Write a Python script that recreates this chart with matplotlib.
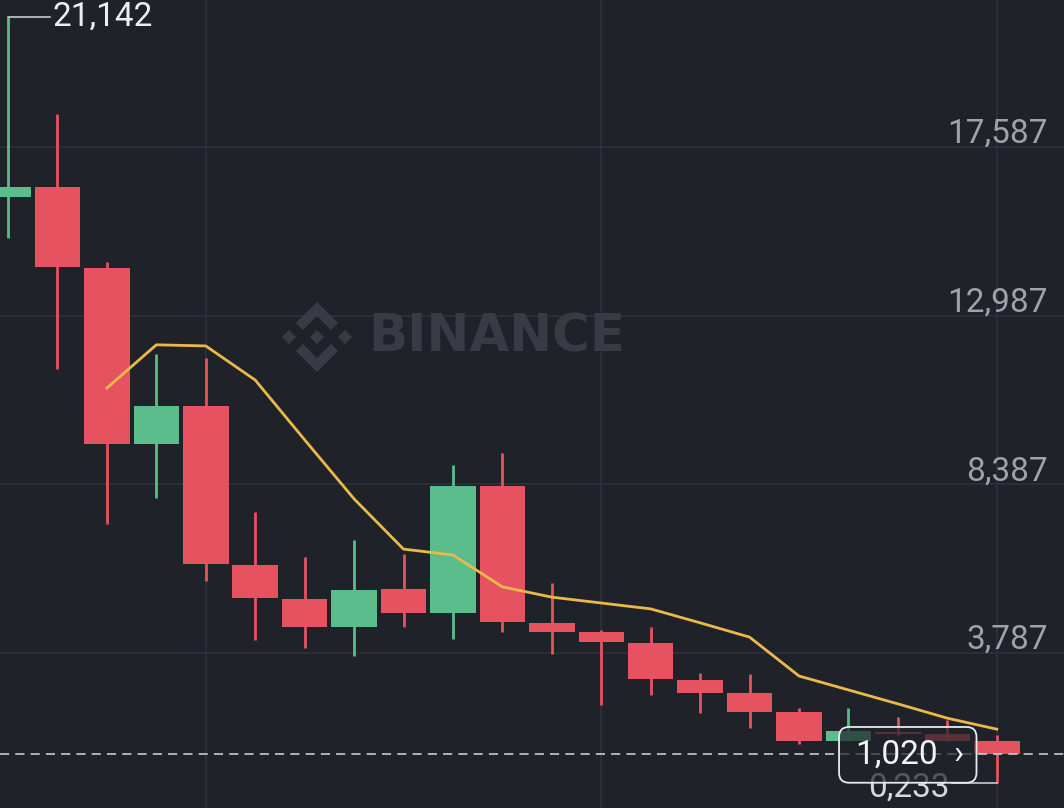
import matplotlib
matplotlib.use("Agg")
import matplotlib.pyplot as plt
import numpy as np
from matplotlib.patches import FancyBboxPatch, Polygon
from matplotlib.transforms import IdentityTransform

# candle data (comma is the decimal mark on the labels)
opens = [16.22, 16.50, 14.29, 9.49, 10.52, 6.19, 5.26, 4.50, 5.53, 4.88, 8.34,
         4.61, 4.36, 4.06, 3.05, 2.70, 2.18, 1.39, 1.63, 1.58, 1.39]
highs = [21.142, 18.49, 14.45, 11.94, 11.83, 7.63, 6.40, 6.87, 6.49, 8.91, 9.24,
         5.70, 4.41, 4.50, 3.24, 3.21, 2.29, 2.29, 2.04, 1.96, 1.55]
lows = [15.10, 11.53, 7.31, 8.01, 5.75, 4.14, 3.92, 3.71, 4.50, 4.17, 4.36,
        3.76, 2.37, 2.64, 2.15, 1.74, 1.31, 1.39, 1.55, 1.39, 0.233]
closes = [16.50, 14.31, 9.49, 10.52, 6.21, 5.29, 4.50, 5.51, 4.88, 8.34, 4.63,
          4.36, 4.09, 3.08, 2.70, 2.18, 1.39, 1.66, 1.58, 1.39, 1.020]
ma_line = [np.nan, np.nan, 11.01, 12.19, 12.16, 11.23, 9.60, 7.99, 6.62, 6.46, 5.59,
           5.31, 5.15, 4.99, 4.61, 4.22, 3.16, 2.78, 2.40, 2.01, 1.71]

price_ticks = [3.787, 8.387, 12.987, 17.587]
time_grid = [4, 12, 20]
last_price = 1.020
period_high = 21.142
period_low = 0.233

BG = "#1f2229"
UP = "#5abd8b"
DOWN = "#e6525f"
MA_COLOR = "#ebb94a"
GRID = "#2e323b"
TICK_TEXT = "#9ea2a9"
WATERMARK = "#373b44"

plt.rcParams["font.family"] = ["Roboto", "DejaVu Sans"]


def fmt(v):
    return f"{v:.3f}".replace(".", ",")


W, H = 1064, 808
fig = plt.figure(figsize=(W / 100, H / 100), dpi=100, facecolor=BG)
ax = fig.add_axes([0, 0, 1, 1])
ax.set_facecolor(BG)
ax.set_xlim(-0.162, 21.36)
ax.set_ylim(-0.439, 21.592)
ax.axis("off")

x = np.arange(len(opens))
o = np.array(opens)
c = np.array(closes)
colors = [UP if cc >= oo else DOWN for oo, cc in zip(o, c)]

# grid
for t in price_ticks:
    ax.axhline(t, color=GRID, lw=1.1, zorder=0)
    ax.text(21.03, t + 0.11, fmt(t), ha="right", va="baseline",
            fontsize=24, color=TICK_TEXT, zorder=1)
for g in time_grid:
    ax.axvline(g, color=GRID, lw=1.1, zorder=0)

# watermark
ident = IdentityTransform()
cx, cy, s = 317, H - 337, 35
logo_parts = [
    [(0, 0.2), (0.2, 0), (0, -0.2), (-0.2, 0)],
    [(-0.8, 0.2), (-0.6, 0), (-0.8, -0.2), (-1.0, 0)],
    [(0.8, 0.2), (1.0, 0), (0.8, -0.2), (0.6, 0)],
    [(0, 1), (0.6, 0.4), (0.4, 0.2), (0, 0.6), (-0.4, 0.2), (-0.6, 0.4)],
    [(0, -1), (0.6, -0.4), (0.4, -0.2), (0, -0.6), (-0.4, -0.2), (-0.6, -0.4)],
]
for part in logo_parts:
    pts = [(cx + px * s, cy + py * s) for px, py in part]
    fig.patches.append(Polygon(pts, closed=True, fc=WATERMARK, ec="none",
                               transform=ident, figure=fig))
ax.text(368, H - 338, "BINANCE", transform=ident, fontsize=37, fontweight="bold",
        family="DejaVu Sans", color=WATERMARK, ha="left", va="center", zorder=0.5)

# candles
ax.vlines(x, lows, highs, colors=colors, lw=2, zorder=2)
ax.bar(x, np.abs(c - o), bottom=np.minimum(o, c), width=0.92, color=colors,
       zorder=3)

# moving average
ax.plot(x, ma_line, color=MA_COLOR, lw=2.0, zorder=4)

# last price dashed line
ax.axhline(last_price, color="#d6d8db", lw=1.1, ls=(0, (6, 4)), zorder=5)

# period high / low markers
ax.plot([0, 0.85], [period_high, period_high], color="#d6d8db", lw=1.1, zorder=5)
ax.text(0.89, period_high, fmt(period_high), fontsize=24, color="#eceef0",
        ha="left", va="center", zorder=6)
low_i = len(opens) - 1
ax.plot([low_i, low_i - 0.9], [period_low, period_low], color="#d6d8db", lw=1.1,
        zorder=5)
ax.text(low_i - 0.95, period_low - 0.13, fmt(period_low), fontsize=24,
        color="#d6d8db", ha="right", va="center", zorder=5)

# current price box
box = FancyBboxPatch((16.81, 0.25), 2.78, 1.52,
                     boxstyle="round,pad=0,rounding_size=0.2",
                     mutation_aspect=1.35, fc=BG, alpha=0.7, ec="none", zorder=7)
ax.add_patch(box)
edge = FancyBboxPatch((16.81, 0.25), 2.78, 1.52,
                      boxstyle="round,pad=0,rounding_size=0.2",
                      mutation_aspect=1.35, fc="none", ec="#e8eaed", lw=1.3, zorder=8)
ax.add_patch(edge)
ax.text(17.15, last_price, fmt(last_price)[:5] + "  \u203a", fontsize=24,
        color="#f2f3f5", ha="left", va="center", zorder=9)

fig.savefig("out.png", dpi=100, facecolor=BG)
